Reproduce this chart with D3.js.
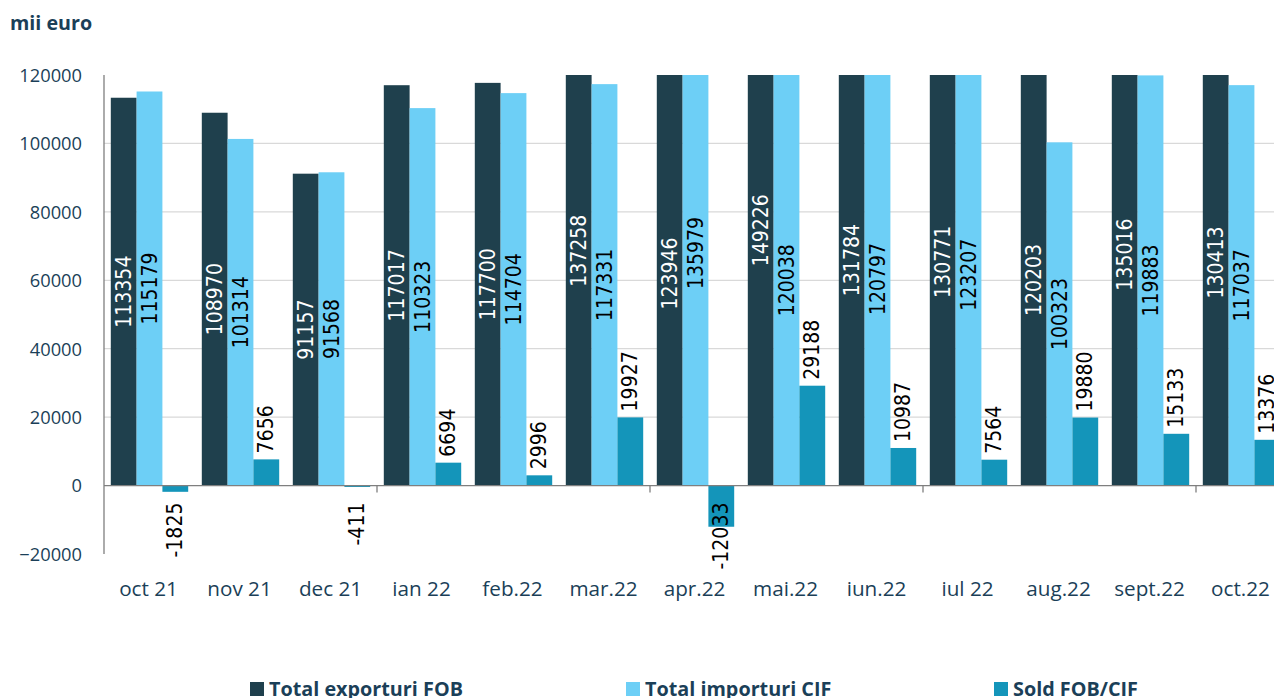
<!DOCTYPE html>
<html><head><meta charset="utf-8">
<script src="https://cdn.jsdelivr.net/npm/d3@7"></script>
<style>body{margin:0;background:#fff}svg{display:block}</style>
</head><body>
<svg id="c" width="1274" height="698"></svg>
<script>
const categories = ["oct 21","nov 21","dec 21","ian 22","feb.22","mar.22","apr.22","mai.22","iun.22","iul 22","aug.22","sept.22","oct.22"];
const exporturi = [113354,108970,91157,117017,117700,137258,123946,149226,131784,130771,120203,135016,130413];
const importuri = [115179,101314,91568,110323,114704,117331,135979,120038,120797,123207,100323,119883,117037];
const sold = [-1825,7656,-411,6694,2996,19927,-12033,29188,10987,7564,19880,15133,13376];
const yTicks = [-20000,0,20000,40000,60000,80000,100000,120000];
const seriesNames = ["Total exporturi FOB","Total importuri CIF","Sold FOB/CIF"];
const colors = ["#1f404d","#6dcff6","#1495ba"];
const labelColors = ["#ffffff","#000000","#000000"];

const svg = d3.select("#c");
const axisColor = "#1b3f58";
const x0 = 104, bandW = 91;
const x = d3.scaleBand().domain(categories).range([x0, x0 + bandW*categories.length]).paddingInner(0).paddingOuter(0);
const y = d3.scaleLinear().domain([-20000,120000]).range([554,75]);
const inner = d3.scaleBand().domain([0,1,2]).range([6.8, bandW-6.8]).padding(0);

svg.append("text").attr("x",10).attr("y",30).text("mii euro")
  .attr("font-family","Open Sans").attr("font-weight","bold").attr("font-size",19.7).attr("fill",axisColor);

svg.append("g").selectAll("line").data(yTicks.filter(t=>t>0 && t<120000)).join("line")
  .attr("x1",x0).attr("x2",1274).attr("y1",d=>y(d)).attr("y2",d=>y(d))
  .attr("stroke","#d9d9d9").attr("stroke-width",1.2);

const yAxis = d3.axisLeft(y).tickValues(yTicks).tickSize(0).tickPadding(0).tickFormat(d3.format("d"));
const ya = svg.append("g").attr("transform",`translate(82,0)`).call(yAxis);
ya.select(".domain").remove();
ya.selectAll("text").attr("font-family","Open Sans").attr("font-size",18.3).attr("fill",axisColor).attr("dy","0.35em");

svg.append("defs").append("clipPath").attr("id","plot").append("rect")
  .attr("x",x0).attr("y",75).attr("width",1274-x0).attr("height",560-75);

const series = [exporturi, importuri, sold];
const bars = svg.append("g").attr("clip-path","url(#plot)");
series.forEach((vals,si)=>{
  bars.selectAll(null).data(vals.map((v,i)=>({v,c:categories[i]}))).join("rect")
    .attr("x",d=>x(d.c)+inner(si)).attr("width",inner.bandwidth())
    .attr("y",d=>y(Math.max(0,d.v))).attr("height",d=>Math.abs(y(d.v)-y(0)))
    .attr("fill",colors[si]);
});

svg.append("line").attr("x1",x0).attr("x2",x0).attr("y1",75).attr("y2",554).attr("stroke","#7f7f7f").attr("stroke-width",1.3);
const xAxis = d3.axisBottom(x).tickSize(0).tickPadding(0);
const xa = svg.append("g").attr("transform",`translate(0,${y(0)})`).call(xAxis);
xa.select(".domain").attr("stroke","#7f7f7f").attr("stroke-width",1.3).attr("d",`M${x0},0H1274`);
xa.selectAll("text").attr("font-family","Open Sans").attr("font-size",20.7).attr("fill",axisColor)
  .attr("y",0).attr("dy",0).attr("transform",`translate(-1,${596-y(0)})`);
svg.append("g").selectAll("line").data(categories.filter((c,i)=>i%3===0 && i>0)).join("line")
  .attr("x1",d=>x(d)).attr("x2",d=>x(d)).attr("y1",y(0)).attr("y2",y(0)+7)
  .attr("stroke","#7f7f7f").attr("stroke-width",1.3);

const lab = svg.append("g").attr("font-family","DejaVu Sans Condensed, DejaVu Sans").attr("font-size",21);
[exporturi, importuri].forEach((vals,si)=>{
  lab.selectAll(null).data(vals.map((v,i)=>({v,c:categories[i]}))).join("text")
    .attr("transform",d=>`translate(${x(d.c)+inner(si)+inner.bandwidth()/2},${(y(d.v)+y(0))/2}) rotate(-90)`)
    .attr("text-anchor","middle").attr("dominant-baseline","central")
    .attr("fill",labelColors[si]).text(d=>d.v);
});
lab.selectAll(null).data(sold.map((v,i)=>({v,c:categories[i]}))).join("text")
  .attr("transform",d=>`translate(${x(d.c)+inner(2)+inner.bandwidth()/2},${d.v>=0 ? y(d.v)-6 : y(0)+17}) rotate(-90)`)
  .attr("text-anchor",d=>d.v>=0?"start":"end").attr("dominant-baseline","central")
  .attr("fill","#000").text(d=>d.v);

const legX = [250,626,994];
const leg = svg.append("g");
seriesNames.forEach((n,i)=>{
  leg.append("rect").attr("x",legX[i]).attr("y",682).attr("width",14).attr("height",14).attr("fill",colors[i]);
  leg.append("text").attr("x",legX[i]+19).attr("y",696).text(n)
    .attr("font-family","Open Sans").attr("font-weight","bold").attr("font-size",19.8).attr("fill",axisColor);
});
</script>
</body></html>
